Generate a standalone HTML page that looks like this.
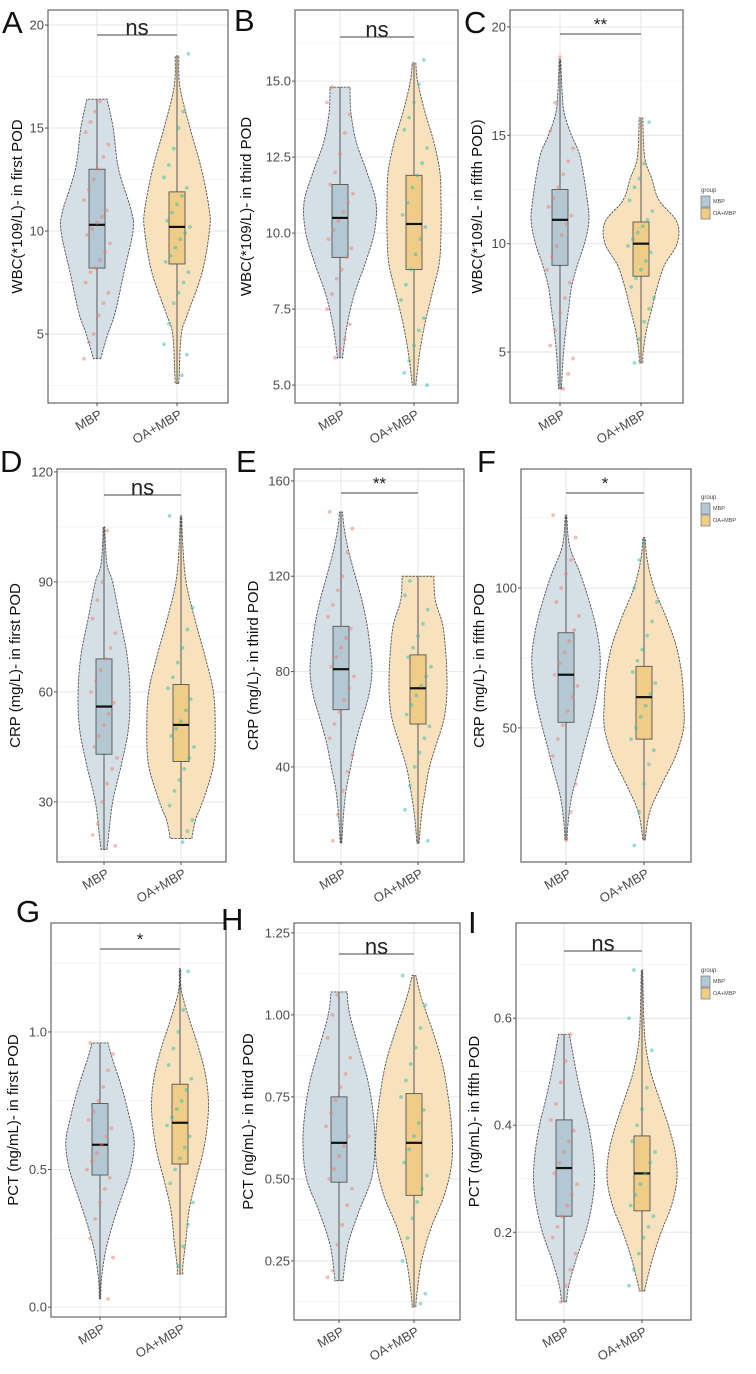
<!DOCTYPE html>
<html><head><meta charset="utf-8"><style>
html,body{margin:0;padding:0;background:#fff}
svg{display:block;font-family:"Liberation Sans",sans-serif}
</style></head><body>
<svg id="fig" width="756" height="1374" viewBox="0 0 756 1374" xmlns="http://www.w3.org/2000/svg"></svg>
<script>
// ---------- data ----------
const panelIds = ['A','B','C','D','E','F','G','H','I'];
const groups = ['MBP','OA+MBP'];
const yTitles = ['WBC(*109/L)- in first POD','WBC(*109/L)- in third POD','WBC(*109/L- in fifth POD)',
 'CRP (mg/L)- in first POD','CRP (mg/L)- in third POD','CRP (mg/L)- in fifth POD',
 'PCT (ng/mL)- in first POD','PCT (ng/mL)- in third POD','PCT (ng/mL)- in fifth POD'];
const yTicks = [[5,10,15,20],[5,7.5,10,12.5,15],[5,10,15,20],[30,60,90,120],[40,80,120,160],[50,100],[0,0.5,1.0],[0.25,0.5,0.75,1.0,1.25],[0.2,0.4,0.6]];
const yTickLabels = [['5','10','15','20'],['5.0','7.5','10.0','12.5','15.0'],['5','10','15','20'],['30','60','90','120'],['40','80','120','160'],['50','100'],['0.0','0.5','1.0'],['0.25','0.50','0.75','1.00','1.25'],['0.2','0.4','0.6']];
const sigLabels = ['ns','ns','**','ns','**','*','*','ns','ns'];
// box stats: [min, q1, median, q3, max]
const boxMBP = [[3.8,8.2,10.3,13.0,16.4],[5.9,9.2,10.5,11.6,14.8],[3.3,9.0,11.1,12.5,18.5],[17,43,56,69,105],[8,64,81,99,147],[10,52,69,84,126],[0.03,0.48,0.59,0.74,0.96],[0.19,0.49,0.61,0.75,1.07],[0.07,0.23,0.32,0.41,0.57]];
const boxOA = [[2.6,8.4,10.2,11.9,18.5],[5.0,8.8,10.3,11.9,15.6],[4.5,8.5,10.0,11.0,15.8],[20,41,51,62,108],[8,58,73,87,120],[10,46,61,72,118],[0.12,0.52,0.67,0.81,1.23],[0.11,0.45,0.61,0.76,1.12],[0.09,0.24,0.31,0.38,0.69]];
// violin density profiles: [value, relative density]
const violinMBP = [
 [[3.8,0.1],[5,0.3],[6,0.5],[8,0.75],[10,1.0],[11,0.95],[13,0.6],[15,0.45],[16.4,0.28]],
 [[5.9,0.08],[6,0.08],[7,0.2],[8,0.4],[9,0.7],[10,0.95],[11,1.0],[12,0.75],[13,0.45],[14,0.3],[14.8,0.28]],
 [[3.3,0.04],[4,0.06],[5,0.1],[6,0.16],[7,0.24],[8,0.32],[9,0.48],[10,0.68],[11,0.8],[12,0.76],[14,0.56],[15,0.32],[16,0.12],[17,0.06],[18.5,0.02]],
 [[17,0.08],[20,0.12],[30,0.24],[40,0.48],[50,0.68],[60,0.72],[70,0.64],[80,0.44],[90,0.24],[95,0.08],[105,0.02]],
 [[8,0.02],[20,0.07],[30,0.14],[40,0.27],[50,0.4],[60,0.58],[70,0.77],[80,0.86],[90,0.81],[100,0.72],[110,0.58],[120,0.4],[130,0.22],[140,0.09],[147,0.04]],
 [[10,0.03],[15,0.05],[25,0.15],[35,0.35],[45,0.55],[55,0.75],[65,0.9],[75,0.95],[85,0.85],[95,0.65],[105,0.4],[115,0.1],[126,0.02]],
 [[0.03,0.02],[0.1,0.04],[0.2,0.15],[0.3,0.35],[0.4,0.6],[0.5,0.85],[0.6,0.95],[0.7,0.8],[0.8,0.6],[0.9,0.35],[0.96,0.22]],
 [[0.19,0.12],[0.2,0.12],[0.3,0.25],[0.4,0.55],[0.5,0.9],[0.6,1.0],[0.7,0.95],[0.8,0.8],[0.9,0.55],[1.0,0.3],[1.07,0.22]],
 [[0.07,0.07],[0.1,0.13],[0.15,0.34],[0.2,0.6],[0.25,0.77],[0.3,0.85],[0.35,0.8],[0.4,0.68],[0.45,0.5],[0.5,0.34],[0.57,0.15]]
];
const violinOA = [
 [[2.6,0.05],[3,0.06],[5,0.12],[6,0.3],[8,0.7],[10,0.9],[11,0.9],[13,0.68],[15,0.36],[17,0.08],[18.5,0.05]],
 [[5.0,0.05],[6,0.15],[7,0.3],[8,0.5],[9,0.7],[10,0.75],[11,0.75],[12,0.72],[13,0.55],[14,0.3],[15,0.1],[15.6,0.05]],
 [[4.5,0.05],[5,0.06],[6,0.15],[7,0.3],[8,0.45],[9,0.65],[10,1.0],[11,1.0],[12,0.5],[13,0.3],[14,0.1],[15.8,0.05]],
 [[20,0.3],[25,0.4],[30,0.6],[40,0.9],[50,0.95],[60,0.9],[70,0.66],[80,0.38],[90,0.14],[100,0.05],[108,0.02]],
 [[8,0.03],[10,0.04],[20,0.1],[30,0.2],[40,0.32],[50,0.52],[60,0.72],[70,0.8],[80,0.8],[90,0.76],[100,0.68],[110,0.48],[120,0.44]],
 [[10,0.03],[20,0.16],[30,0.5],[40,0.88],[50,1.1],[60,1.1],[70,1.04],[80,0.88],[90,0.6],[100,0.28],[110,0.09],[118,0.03]],
 [[0.12,0.08],[0.15,0.08],[0.25,0.17],[0.35,0.25],[0.45,0.42],[0.55,0.62],[0.65,0.75],[0.75,0.79],[0.85,0.7],[0.95,0.5],[1.05,0.25],[1.15,0.04],[1.23,0.02]],
 [[0.11,0.05],[0.15,0.08],[0.25,0.21],[0.35,0.47],[0.45,0.84],[0.55,1.05],[0.65,1.05],[0.75,0.95],[0.85,0.79],[0.95,0.52],[1.05,0.21],[1.12,0.05]],
 [[0.09,0.08],[0.1,0.1],[0.15,0.29],[0.2,0.53],[0.25,0.82],[0.3,0.97],[0.35,0.92],[0.4,0.73],[0.45,0.48],[0.5,0.24],[0.55,0.1],[0.6,0.05],[0.69,0.02]]
];
const ptsMBP = [
 [3.8,4.6,5.0,5.9,6.5,7.0,7.5,8.0,8.2,8.6,9.0,9.4,9.8,10.1,10.4,10.7,11.0,11.5,12.0,12.5,13.0,13.6,14.2,14.8,15.3,15.8,16.3],
 [5.9,6.2,6.5,7.0,7.5,8.0,8.5,8.8,9.2,9.5,9.8,10.1,10.4,10.7,11.0,11.3,11.6,12.0,12.6,13.3,13.9,14.3,14.8],
 [3.3,4.0,4.7,5.3,6.0,6.8,7.5,8.2,8.8,9.4,9.9,10.4,10.9,11.3,11.7,12.1,12.6,13.2,13.8,14.4,15.2,16.5,18.6],
 [18,21,24,30,35,39,42,45,48,51,54,57,60,63,66,69,72,76,80,85,90,104],
 [9,20,30,38,45,52,58,63,68,73,78,82,86,90,94,98,103,108,114,120,130,140,147],
 [10,20,30,40,46,51,56,61,65,69,73,77,81,85,90,95,100,105,110,118,126],
 [0.03,0.18,0.25,0.32,0.38,0.43,0.47,0.5,0.53,0.56,0.59,0.62,0.65,0.68,0.71,0.75,0.8,0.86,0.92,0.96],
 [0.2,0.22,0.3,0.36,0.42,0.47,0.5,0.53,0.57,0.6,0.63,0.66,0.7,0.74,0.78,0.82,0.87,0.93,1.0,1.06],
 [0.07,0.1,0.13,0.16,0.19,0.21,0.23,0.25,0.27,0.29,0.31,0.33,0.35,0.37,0.39,0.41,0.44,0.48,0.52,0.57]
];
const ptsOA = [
 [3.0,4.0,4.5,5.5,6.5,7.0,7.5,8.0,8.5,8.8,9.2,9.6,9.9,10.2,10.5,10.9,11.3,11.7,12.1,12.6,13.2,14.0,15.0,15.8,18.6],
 [5.0,5.4,5.8,6.3,6.8,7.2,7.8,8.3,8.8,9.3,9.8,10.2,10.6,11.0,11.5,11.9,12.3,12.8,13.4,13.8,14.3,14.9,15.7],
 [4.5,5.6,6.4,7.0,7.5,8.0,8.4,8.8,9.2,9.6,9.9,10.2,10.5,10.8,11.1,11.5,12.0,12.6,13.0,13.7,15.6],
 [19,22,25,29,33,36,39,42,45,48,50,52,55,58,61,64,68,72,77,83,108],
 [9,22,32,40,46,52,57,62,66,70,74,78,82,86,90,95,100,106,112,118],
 [8,20,30,37,42,46,50,54,58,62,66,70,74,78,83,88,95,100,110,116],
 [0.15,0.22,0.3,0.38,0.45,0.5,0.54,0.58,0.62,0.66,0.69,0.72,0.75,0.79,0.83,0.88,0.94,1.0,1.08,1.22],
 [0.12,0.15,0.25,0.32,0.38,0.43,0.47,0.51,0.55,0.59,0.63,0.67,0.71,0.75,0.8,0.85,0.9,0.96,1.03,1.12],
 [0.1,0.13,0.16,0.19,0.21,0.23,0.25,0.27,0.29,0.31,0.33,0.35,0.37,0.4,0.43,0.47,0.54,0.6,0.69]
];
// ---------- layout (not data) ----------
const boxes = [[48,10,228,403],[295,10,458,403],[510,10,683,403],[57,469,226,862],[294,469,464,862],[521,469,691,862],[51,923,226,1317],[294,923,460,1320],[516,923,691,1320]];
const domains = [[1.65,20.73],[4.41,17.34],[2.65,20.78],[13.6,120.8],[0.1,165],[2.1,142.5],[-0.036,1.396],[0.07,1.28],[0.036,0.778]];
const xCenters = [[97,177],[340,414],[560,641],[104,181],[341,418],[566,644],[100,180],[339,414],[564,642]];
const sigYs = [35,37,34,495,493,493,949,954,951];
const letterPos = [[2,33],[234,31],[464,33],[0,472],[236,472],[477,472],[16,922],[221,930],[468,933]];
const titleOff = [30,48,32,41,40,41,37,45,41];
const legendY = [188,495,968];

const NS='http://www.w3.org/2000/svg';
const svg=document.getElementById('fig');
function mk(tag,attrs,parent){const e=document.createElementNS(NS,tag);for(const k in attrs)e.setAttribute(k,attrs[k]);(parent||svg).appendChild(e);return e;}

function smoothPath(pts){
  let d='M'+pts[0][0].toFixed(2)+','+pts[0][1].toFixed(2);
  for(let i=0;i<pts.length-1;i++){
    const p0=pts[Math.max(0,i-1)],p1=pts[i],p2=pts[i+1],p3=pts[Math.min(pts.length-1,i+2)];
    const c1=[p1[0]+(p2[0]-p0[0])/6,p1[1]+(p2[1]-p0[1])/6];
    const c2=[p2[0]-(p3[0]-p1[0])/6,p2[1]-(p3[1]-p1[1])/6];
    d+=' C'+c1[0].toFixed(2)+','+c1[1].toFixed(2)+' '+c2[0].toFixed(2)+','+c2[1].toFixed(2)+' '+p2[0].toFixed(2)+','+p2[1].toFixed(2);
  }
  return d;
}

const fills=['#d5e0e6','#f7e2bd'], boxFills=['#b3c8d3','#efcd88'], ptCols=['#f07c6c','#33bba8'];
const HALF=36;

panelIds.forEach((id,p)=>{
  const [x0,y0,x1,y1]=boxes[p];
  const [lo,hi]=domains[p];
  const yS=v=>y1-(v-lo)/(hi-lo)*(y1-y0);
  const g=mk('g',{});
  
  
  // grid
  const ticks=yTicks[p], step=ticks.length>1?ticks[1]-ticks[0]:1;
  const gg=mk('g',{},g);
  
  
  for(let v=ticks[0]-step*6+step/2; v<=hi; v+=step){ if(v>=lo){const y=yS(v);mk('line',{x1:x0,x2:x1,y1:y,y2:y,stroke:'#f2f2f2','stroke-width':0.8},gg);} }
  ticks.forEach(v=>{const y=yS(v);mk('line',{x1:x0,x2:x1,y1:y,y2:y,stroke:'#e6e6e6','stroke-width':1},gg);});
  xCenters[p].forEach(xc=>mk('line',{x1:xc,x2:xc,y1:y0,y2:y1,stroke:'#e6e6e6','stroke-width':1},gg));
  // violins, boxes, points
  const vio=[violinMBP[p],violinOA[p]], bx=[boxMBP[p],boxOA[p]], pts=[ptsMBP[p],ptsOA[p]];
  [0,1].forEach(k=>{
    const xc=xCenters[p][k];
    const prof=vio[k];
    const right=prof.map(([v,w])=>[xc+w*HALF,yS(v)]);
    const left=prof.slice().reverse().map(([v,w])=>[xc-w*HALF,yS(v)]);
    let d=smoothPath(right);
    d+=' L'+left[0][0].toFixed(2)+','+left[0][1].toFixed(2)+smoothPath(left).replace(/^M[^C]*/,' ')+' Z';
    const vp=mk('path',{d:d,fill:fills[k],stroke:'#555','stroke-width':0.9,'stroke-dasharray':'2.5,1'},g);
    
    
    const s=bx[k];
    const wl=mk('line',{x1:xc,x2:xc,y1:yS(s[0]),y2:yS(s[4]),stroke:'#555','stroke-width':1},g);
    
    
    const r=mk('rect',{x:xc-8,y:yS(s[3]),width:16,height:yS(s[1])-yS(s[3]),fill:boxFills[k],stroke:'#555','stroke-width':0.9},g);
    
    
    const ml=mk('line',{x1:xc-8,x2:xc+8,y1:yS(s[2]),y2:yS(s[2]),stroke:'#111','stroke-width':2.2},g);
    
    
    pts[k].forEach((v,i)=>{
      const off=(((i*37+k*11+p*5)%17)-8)/8*13;
      const c=mk('circle',{cx:xc+off,cy:yS(v),r:1.9,fill:ptCols[k],'fill-opacity':0.5},g);
      
      
    });
  });
  // frame
  const fr=mk('rect',{x:x0,y:y0,width:x1-x0,height:y1-y0,fill:'none',stroke:'#666','stroke-width':1.2},g);
  
  
  // y ticks
  ticks.forEach((v,i)=>{
    const y=yS(v);
    mk('line',{x1:x0-3,x2:x0,y1:y,y2:y,stroke:'#555','stroke-width':1},g);
    const t=mk('text',{x:x0-4,y:y+4.5,'text-anchor':'end','font-size':13,fill:'#4d4d4d'},g);
    t.textContent=yTickLabels[p][i];
    
    
  });
  // x labels
  xCenters[p].forEach((xc,k)=>{
    mk('line',{x1:xc,x2:xc,y1:y1,y2:y1+3,stroke:'#555','stroke-width':1},g);
    const tx=xc+6, ty=y1+14;
    const t=mk('text',{x:tx,y:ty,'text-anchor':'end','font-size':13,fill:'#4d4d4d',transform:'rotate(-30 '+tx+' '+ty+')'},g);
    t.textContent=groups[k];
    
    
  });
  // y title
  const cx=x0-titleOff[p], cy=(y0+y1)/2;
  const yt=mk('text',{x:cx,y:cy,'text-anchor':'middle','dominant-baseline':'middle','font-size':15,fill:'#111',transform:'rotate(-90 '+cx+' '+cy+')'},g);
  yt.textContent=yTitles[p];
  
  
  // significance
  const sy=sigYs[p], [xa,xb]=xCenters[p];
  const sl=mk('line',{x1:xa,x2:xb,y1:sy,y2:sy,stroke:'#444','stroke-width':1.1},g);
  
  
  const isNs=sigLabels[p]==='ns';
  const st=mk('text',{x:(xa+xb)/2,y:isNs?sy:sy-4,'text-anchor':'middle','font-size':isNs?22:17,fill:'#222'},g);
  st.textContent=sigLabels[p];
  
  
  // panel letter
  const lt=mk('text',{x:letterPos[p][0],y:letterPos[p][1],'font-size':31,fill:'#111'},g);
  lt.textContent=id;
  
  
});

// legends
legendY.forEach(ly=>{
  const lg=mk('g',{});
  
  
  const t=mk('text',{x:701,y:ly+4,'font-size':6,fill:'#444'},lg);
  t.textContent='group';
  
  
  [0,1].forEach(k=>{
    const yy=ly+8+k*12;
    const r=mk('rect',{x:701,y:yy,width:9,height:11,fill:boxFills[k],stroke:'#777','stroke-width':0.7},lg);
    
    
    const l=mk('text',{x:713,y:yy+7,'font-size':5.5,fill:'#444'},lg);
    l.textContent=groups[k];
    
    
  });
});
</script>
</body></html>
